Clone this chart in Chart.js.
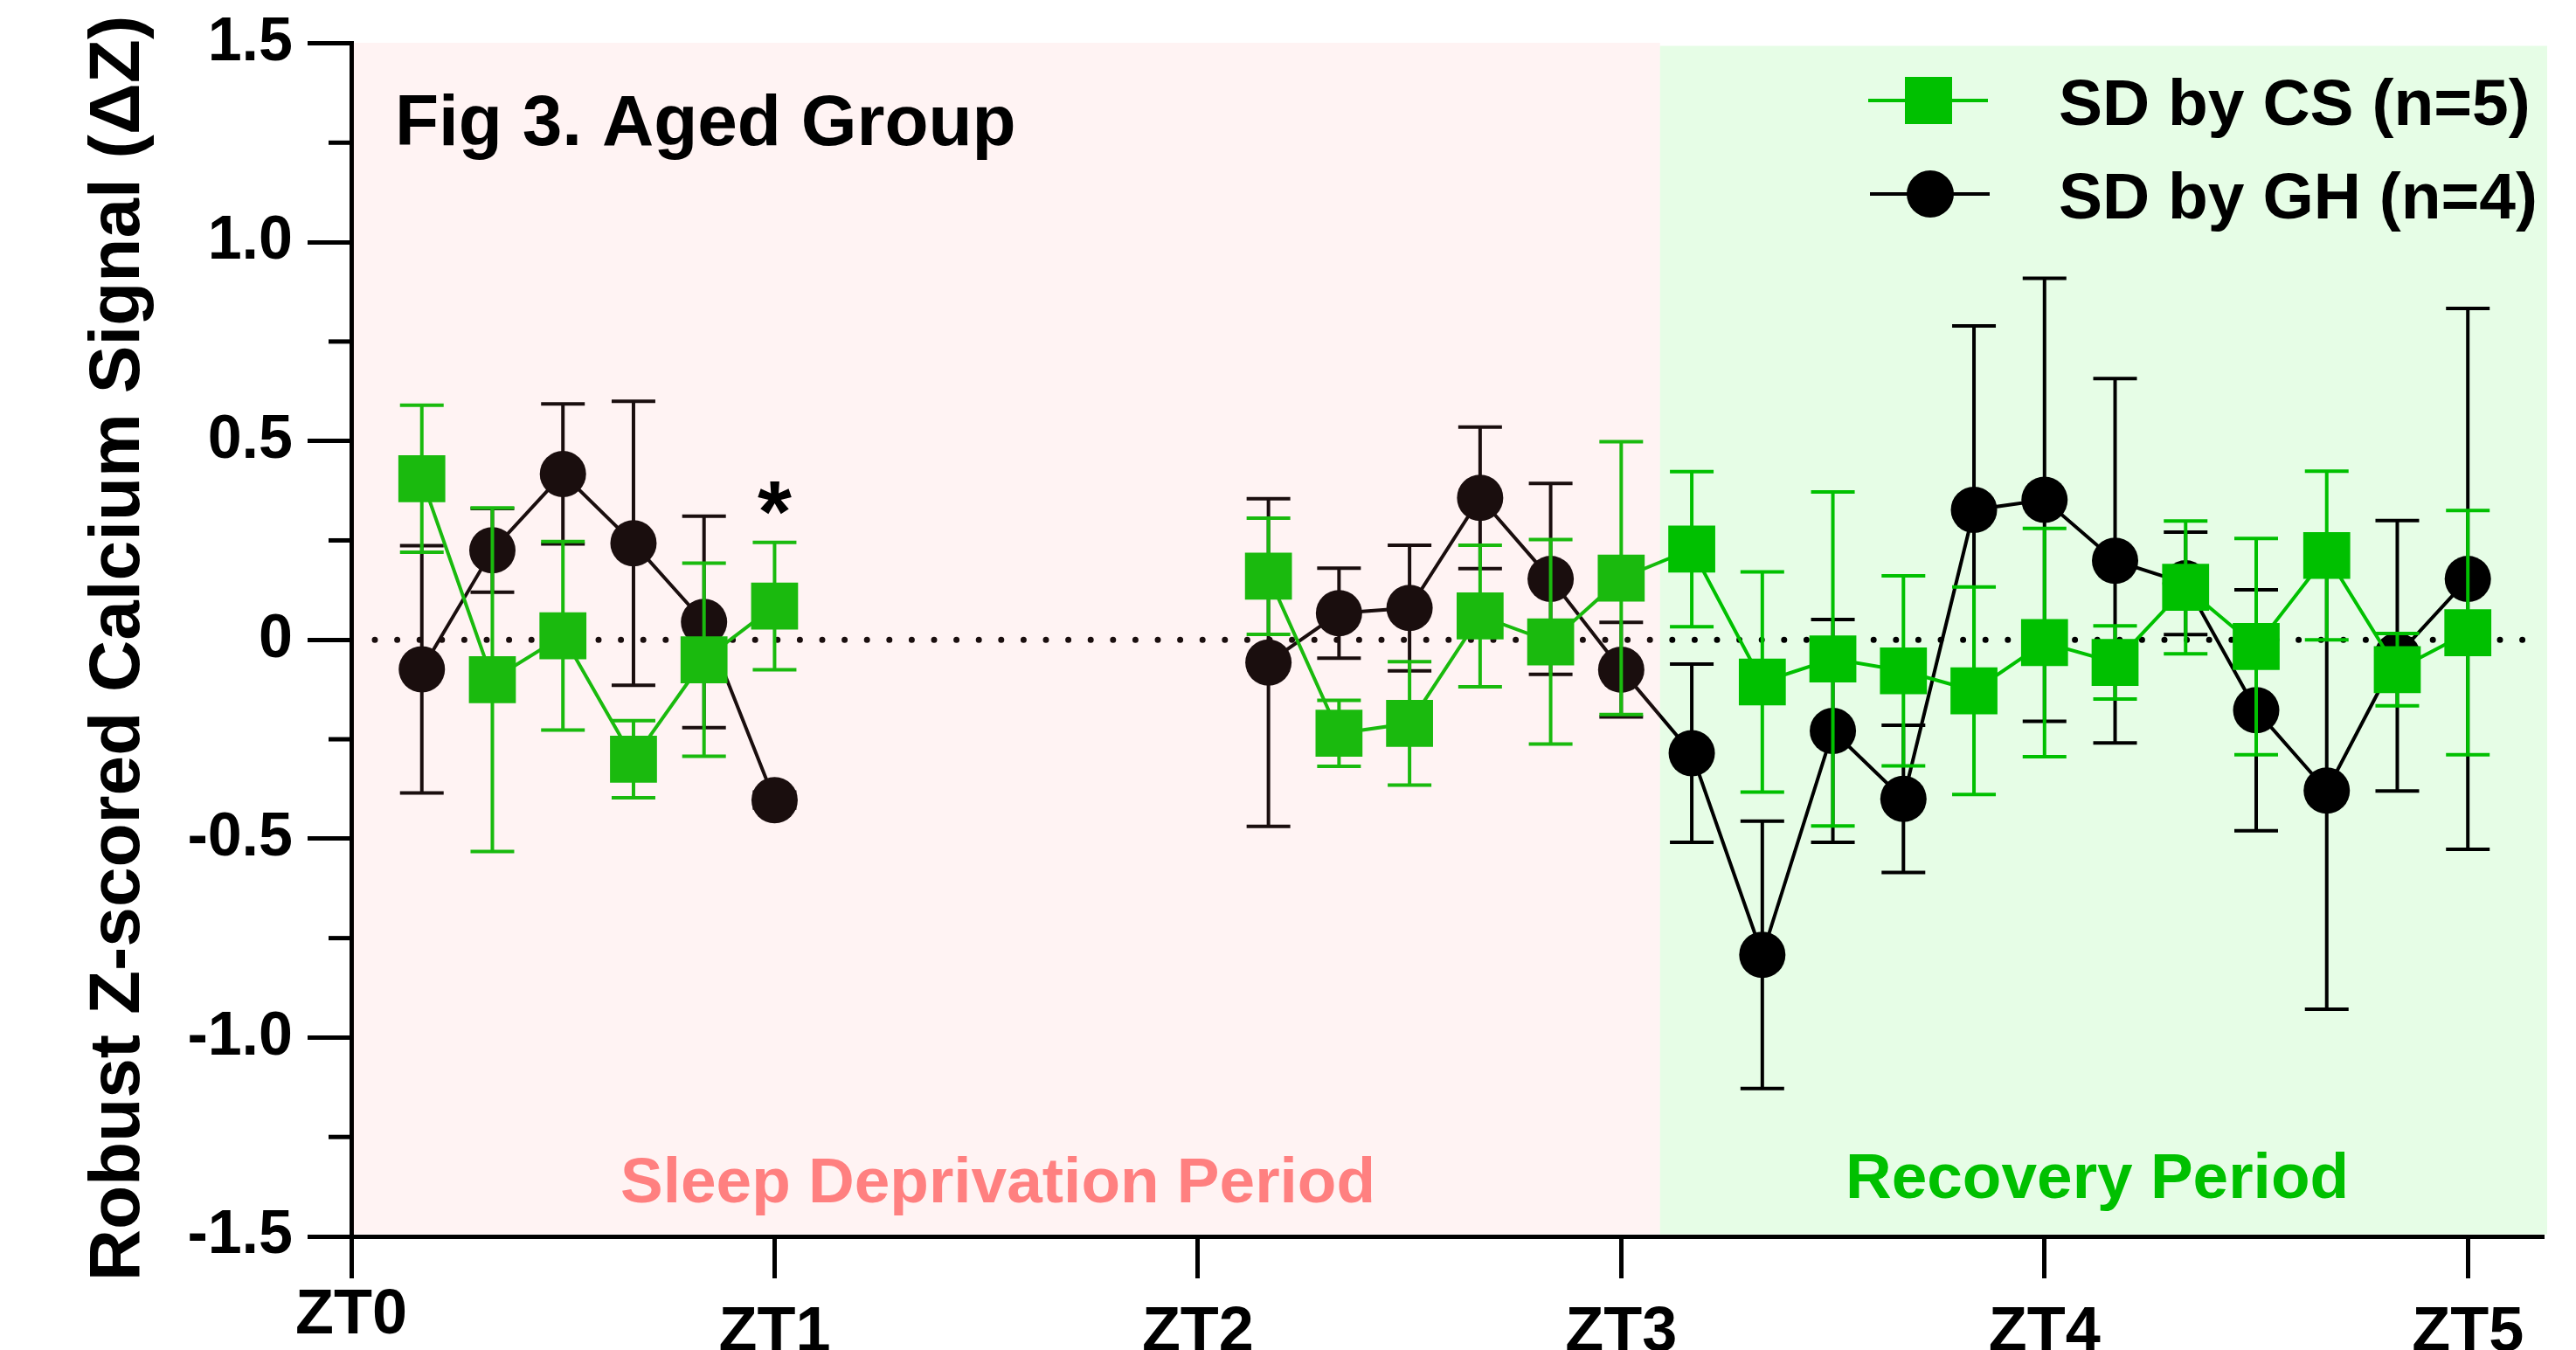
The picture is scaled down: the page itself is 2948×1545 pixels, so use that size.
<!DOCTYPE html>
<html>
<head>
<meta charset="utf-8">
<script src="https://cdn.jsdelivr.net/npm/chart.js@4.4.1/dist/chart.umd.min.js"></script>
<style>
  body { margin: 0; background: #fff; }
  #wrap { width: 2948px; height: 1545px; }
</style>
</head>
<body>
<div id="wrap"><canvas id="myChart" width="2948" height="1545"></canvas></div>
<script>
// sample times, minutes after ZT0
const minutes = [10, 20, 30, 40, 50, 60,
  130, 140, 150, 160, 170, 180, 190, 200, 210, 220, 230, 240, 250, 260, 270, 280, 290, 300];

// SD by CS (n=5)
const csMean = [0.405, -0.10, 0.01, -0.30, -0.05, 0.085,
  0.16, -0.235, -0.21, 0.06, -0.005, 0.155, 0.228, -0.106, -0.048, -0.078, -0.128, -0.007, -0.057, 0.132, -0.017, 0.212, -0.075, 0.018];
const csSem = [0.185, 0.432, 0.237, 0.097, 0.243, 0.16,
  0.146, 0.083, 0.155, 0.178, 0.257, 0.343, 0.195, 0.277, 0.42, 0.239, 0.261, 0.287, 0.092, 0.167, 0.272, 0.212, 0.091, 0.307];

// SD by GH (n=4)
const ghMean = [-0.074, 0.225, 0.417, 0.243, 0.045, -0.403,
  -0.057, 0.067, 0.08, 0.357, 0.153, -0.075, -0.285, -0.792, -0.229, -0.40, 0.327, 0.352, 0.199, 0.142, -0.177, -0.379, -0.04, 0.153];
const ghSem = [0.311, 0.105, 0.176, 0.357, 0.266, 0.02,
  0.412, 0.113, 0.158, 0.178, 0.24, 0.119, 0.224, 0.336, 0.28, 0.185, 0.462, 0.557, 0.458, 0.129, 0.303, 0.55, 0.34, 0.68];

const xTicks = [0, 60, 120, 180, 240, 300];
const xTickLabels = ["ZT0", "ZT1", "ZT2", "ZT3", "ZT4", "ZT5"];
const yTicks = [-1.5, -1, -0.5, 0, 0.5, 1, 1.5];
const yTickLabels = ["-1.5", "-1.0", "-0.5", "0", "0.5", "1.0", "1.5"];
const yMinorTicks = [-1.25, -0.75, -0.25, 0.25, 0.75, 1.25];

const recoveryStart = 185.5; // minutes, where the green box begins
const starAt = 60; // significant point

const green = "#00c000";
const black = "#000000";
const FONT = "'Liberation Sans', Arial, sans-serif";

const ctx = document.getElementById("myChart");

const errs = [csSem, ghSem];
const means = [csMean, ghMean];

const errorBars = {
  id: "errorBars",
  beforeDatasetDraw(chart, args) {
    const c = chart.ctx;
    const xs = chart.scales.x;
    const ys = chart.scales.y;
    const color = chart.data.datasets[args.index].borderColor;
    c.save();
    c.strokeStyle = color;
    c.lineWidth = 4;
    minutes.forEach((m, i) => {
      const px = xs.getPixelForValue(m);
      const top = ys.getPixelForValue(means[args.index][i] + errs[args.index][i]);
      const bot = ys.getPixelForValue(means[args.index][i] - errs[args.index][i]);
      c.beginPath();
      c.moveTo(px, top);
      c.lineTo(px, bot);
      c.moveTo(px - 25, top);
      c.lineTo(px + 25, top);
      c.moveTo(px - 25, bot);
      c.lineTo(px + 25, bot);
      c.stroke();
    });
    c.restore();
  },
};

const backdrop = {
  id: "backdrop",
  beforeDatasetsDraw(chart) {
    const c = chart.ctx;
    const a = chart.chartArea;
    const xs = chart.scales.x;
    const ys = chart.scales.y;
    const x0 = xs.getPixelForValue(recoveryStart);
    c.save();
    c.fillStyle = "#e6fde6";
    c.fillRect(x0, a.top + 3, a.right + 6 - x0, a.bottom - 2.5 - a.top - 3);
    // dotted zero line
    const y0 = ys.getPixelForValue(0);
    c.strokeStyle = "#000";
    c.lineWidth = 7;
    c.lineCap = "round";
    c.setLineDash([0, 25.6]);
    c.beginPath();
    c.moveTo(a.left + 27, y0);
    c.lineTo(a.right - 8, y0);
    c.stroke();
    c.restore();
  },
  afterDatasetsDraw(chart) {
    const c = chart.ctx;
    const a = chart.chartArea;
    const x1 = chart.scales.x.getPixelForValue(recoveryStart);
    c.save();
    c.fillStyle = "rgba(255,140,140,0.1)";
    c.fillRect(a.left + 2.5, a.top - 0.5, x1 - a.left - 2.5, a.bottom - 2.5 - a.top + 0.5);
    c.restore();
  },
};

const decorations = {
  id: "decorations",
  afterDraw(chart) {
    const c = chart.ctx;
    const a = chart.chartArea;
    const xs = chart.scales.x;
    const ys = chart.scales.y;
    c.save();

    // minor y ticks
    c.strokeStyle = "#000";
    c.lineWidth = 5;
    yMinorTicks.forEach((v) => {
      const py = ys.getPixelForValue(v);
      c.beginPath();
      c.moveTo(a.left - 26, py);
      c.lineTo(a.left, py);
      c.stroke();
    });

    c.fillStyle = "#000";
    c.textBaseline = "alphabetic";

    // ZT0 sits a bit higher than the other labels
    c.font = "bold 72px " + FONT;
    c.textAlign = "center";
    c.fillText(xTickLabels[0], xs.getPixelForValue(0), 1526);

    // y axis title
    c.save();
    c.translate(159, 742);
    c.rotate(-Math.PI / 2);
    c.font = "bold 82px " + FONT;
    c.fillText("Robust Z-scored Calcium Signal (\u0394Z)", 0, 0);
    c.restore();

    // panel title
    c.textAlign = "left";
    c.font = "bold 82px " + FONT;
    c.fillText("Fig 3. Aged Group", 452, 166);

    // period labels
    c.textAlign = "center";
    c.font = "bold 73px " + FONT;
    c.fillStyle = "#ff8080";
    c.fillText("Sleep Deprivation Period", 1142, 1376);
    c.fillStyle = green;
    c.fillText("Recovery Period", 2400, 1371);

    // asterisk over the last SD point
    c.fillStyle = "#000";
    c.font = "bold 100px " + FONT;
    const m = c.measureText("*");
    const i6 = minutes.indexOf(starAt);
    const starTop = ys.getPixelForValue(csMean[i6] + csSem[i6]) - 70;
    c.fillText("*", xs.getPixelForValue(starAt), starTop + m.actualBoundingBoxAscent);

    // legend
    c.lineWidth = 4;
    c.strokeStyle = green;
    c.beginPath();
    c.moveTo(2138, 115);
    c.lineTo(2275, 115);
    c.stroke();
    c.fillStyle = green;
    c.fillRect(2207 - 27, 115 - 27, 54, 54);
    c.strokeStyle = black;
    c.beginPath();
    c.moveTo(2140, 222);
    c.lineTo(2277, 222);
    c.stroke();
    c.fillStyle = black;
    c.beginPath();
    c.arc(2209, 222, 27, 0, Math.PI * 2);
    c.fill();
    c.textAlign = "left";
    c.font = "bold 75px " + FONT;
    c.fillText(chart.data.datasets[0].label, 2356, 143);
    c.fillText(chart.data.datasets[1].label, 2356, 250);

    c.restore();
  },
};

const obj = {
  type: "line",
  data: {
    datasets: [
      {
        label: "SD by CS (n=5)",
        data: minutes.map((m, i) => ({ x: m, y: csMean[i] })),
        borderColor: green,
        backgroundColor: green,
        borderWidth: 4,
        pointStyle: "rect",
        pointRadius: 38,
        pointBorderWidth: 0,
        spanGaps: 30,
      },
      {
        label: "SD by GH (n=4)",
        data: minutes.map((m, i) => ({ x: m, y: ghMean[i] })),
        borderColor: black,
        backgroundColor: black,
        borderWidth: 4,
        pointStyle: "circle",
        pointRadius: 26.5,
        pointBorderWidth: 0,
        spanGaps: 30,
      },
    ],
  },
  options: {
    responsive: false,
    animation: false,
    devicePixelRatio: 1,
    events: [],
    layout: { padding: { top: 49.5, right: 39, left: 0, bottom: 0 } },
    plugins: {
      legend: { display: false },
      tooltip: { enabled: false },
    },
    scales: {
      x: {
        type: "linear",
        min: 0,
        max: 310.5,
        afterBuildTicks: (s) => {
          s.ticks = xTicks.map((v) => ({ value: v }));
        },
        afterFit: (s) => {
          s.height = 130;
          s.paddingLeft = 0;
          s.paddingRight = 0;
        },
        ticks: {
          callback: (v, i) => (i === 0 ? "" : xTickLabels[i]),
          color: "#000",
          font: { family: FONT, size: 72, weight: "bold" },
          padding: 20,
          maxRotation: 0,
          autoSkip: false,
        },
        grid: { drawOnChartArea: false, drawTicks: true, tickLength: 48, lineWidth: 5, color: "#000" },
        border: { display: true, width: 5, color: "#000" },
      },
      y: {
        min: -1.5,
        max: 1.5,
        afterBuildTicks: (s) => {
          s.ticks = yTicks.map((v) => ({ value: v }));
        },
        afterFit: (s) => {
          s.width = 402;
          s.paddingTop = 0;
          s.paddingBottom = 0;
        },
        ticks: {
          callback: (v, i) => yTickLabels[i],
          color: "#000",
          font: { family: FONT, size: 70, weight: "bold" },
          padding: 17,
        },
        grid: { drawOnChartArea: false, drawTicks: true, tickLength: 50, lineWidth: 5, color: "#000" },
        border: { display: true, width: 5, color: "#000" },
      },
    },
  },
  plugins: [errorBars, backdrop, decorations],
};

new Chart(ctx, obj);
</script>
</body>
</html>
